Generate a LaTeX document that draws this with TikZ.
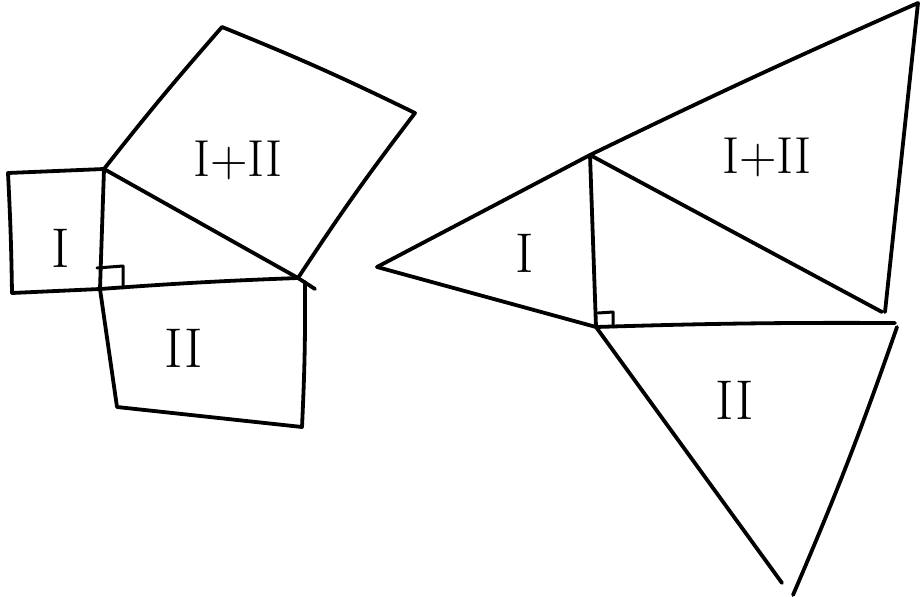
\documentclass[tikz,border=0pt]{standalone}
\begin{document}
\begin{tikzpicture}[x=1pt,y=-1pt,
  pen/.style={line width=3.8pt,line cap=round,line join=round,black},
  anglemark/.style={line width=3pt,line cap=round,line join=round,black},
  lab/.style={font=\fontsize{56}{56}\selectfont,inner sep=0pt},
  labs/.style={font=\fontsize{52}{52}\selectfont,inner sep=0pt}]
\useasboundingbox (0,0) rectangle (924,597);
% ---------- left figure ----------
\coordinate (A) at (104,169);
\coordinate (C) at (100,289);
\coordinate (B) at (298,278);
\coordinate (B2) at (315,289);
\coordinate (s1a) at (8,173);
\coordinate (s1b) at (12,293);
\coordinate (s2a) at (117,407);
\coordinate (s2b) at (302,427);
\coordinate (s2c) at (305,282);
\coordinate (s3a) at (222,27);
\coordinate (s3b) at (415,113);
\draw[pen] (A) -- (s1a) to[bend left=1] (s1b) -- (C) to[bend left=1] (B);
\draw[pen] (A) -- (C) -- (s2a) -- (s2b) to[bend right=1.5] (s2c);
\draw[pen] (A) -- (B) -- (B2);
\draw[pen] (A) to[bend left=1.5] (s3a) to[bend left=2] (s3b) to[bend right=2] (B);
\draw[anglemark] (97,268) -- (123,266) -- (123,288);
\node[lab] (lI) at (61,248) {I};
\node[lab] (lII) at (184,348) {II};
\node[labs] (lI2) at (238,160) {I+II};
% ---------- right figure ----------
\coordinate (P) at (377,267);
\coordinate (Q) at (590,155);
\coordinate (T) at (918,3);
\coordinate (R) at (596,327);
\coordinate (E) at (885,312);
\coordinate (H) at (882,312);
\coordinate (F) at (895,323);
\coordinate (G) at (897,327);
\coordinate (L) at (782,583);
\coordinate (M) at (793,595);
\draw[pen] (P) -- (Q) to[bend left=1] (T) -- (E);
\draw[pen] (Q) -- (H);
\draw[pen] (Q) -- (R);
\draw[pen] (P) -- (R);
\draw[pen] (R) to[bend left=1] (F);
\draw[pen] (R) -- (L);
\draw[pen] (G) to[bend left=2] (M);
\draw[anglemark] (598,313) -- (613,312) -- (613,327);
\node[lab] (rI) at (525,253) {I};
\node[lab] (rII) at (735,400) {II};
\node[labs] (rI2) at (767,157) {I+II};
\end{tikzpicture}
\end{document}
